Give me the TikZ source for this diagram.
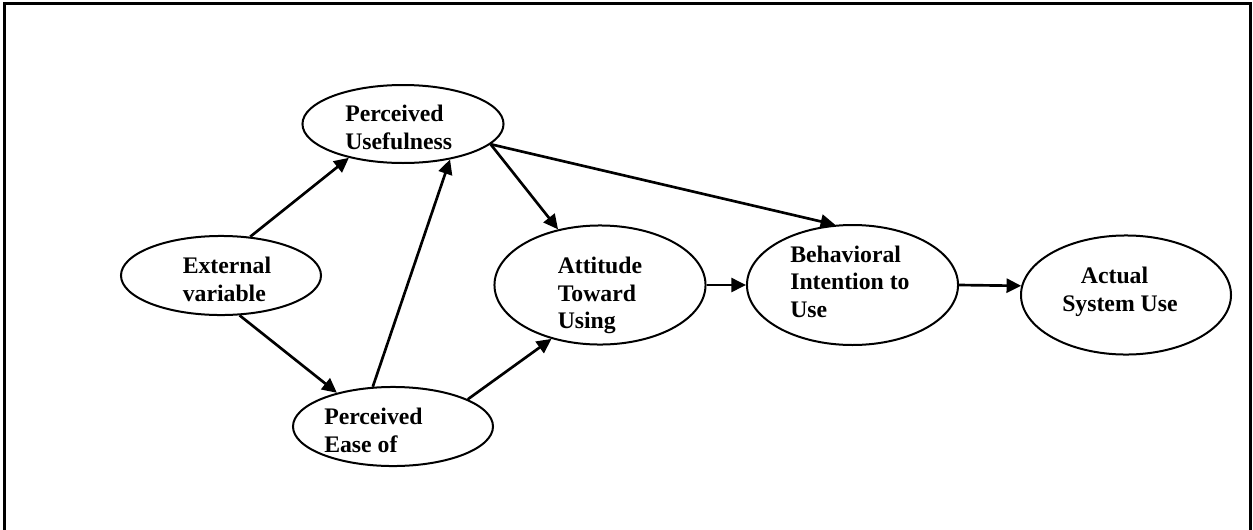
\documentclass[tikz,border=0pt]{standalone}
\usepackage{fontspec}
\setmainfont{Liberation Serif}
\usetikzlibrary{shapes.geometric,arrows.meta}
\tikzset{
  bubble/.style={draw, ellipse, line width=1.5pt, inner sep=0pt},
  lbl/.style={font=\fontsize{17.8}{20.6}\selectfont\bfseries, inner sep=0pt, align=left, anchor=north west},
  link/.style={line width=2pt, -{Triangle[length=11pt,width=10.5pt]}}
}
\begin{document}
\begin{tikzpicture}[x=0.75pt,y=0.75pt,yscale=-1,xscale=1]
\useasboundingbox (0,0) rectangle (1253,529);
\clip (0,0) rectangle (1253,529);

%Shape: Frame (open at the bottom)
\draw[line width=2pt] (4.5,560) -- (4.5,3.2) -- (1250.8,3.2) -- (1250.8,560);

%Shape: Ellipse
\node[bubble, minimum width=150.8pt, minimum height=58.5pt] (pu) at (403,124) {};
%Shape: Ellipse
\node[bubble, minimum width=150pt, minimum height=59.3pt] (ev) at (221,275.5) {};
%Shape: Ellipse
\node[bubble, minimum width=150pt, minimum height=59.3pt] (peou) at (393,426.5) {};
%Shape: Ellipse
\node[bubble, minimum width=158.3pt, minimum height=89.3pt] (atu) at (600,285) {};
%Shape: Ellipse
\node[bubble, minimum width=158.3pt, minimum height=90pt] (bi) at (852.5,285) {};
%Shape: Ellipse
\node[bubble, minimum width=157.5pt, minimum height=89.3pt] (asu) at (1126,295) {};

%Straight Lines
\draw[link] (ev.53) -- (pu.212);
%Straight Lines
\draw[link] (ev.295) -- (peou.149);
%Straight Lines
\draw[link] (peou.117) -- (pu.323);
%Straight Lines
\draw[link] (pu.347) -- (atu.127);
%Straight Lines
\draw[link] (pu.347) -- (bi.106);
%Straight Lines
\draw[link] (peou.20) -- (atu.228);
%Straight Lines
\draw[link] (atu.east) -- (bi.west);
%Straight Lines
\draw[link] (bi.east) -- (asu.175);

% Text Node
\node[lbl] (pu-txt) at (345,105) {Perceived\\Usefulness};
% Text Node
\node[lbl] (ev-txt) at (182.5,257) {External\\variable};
% Text Node
\node[lbl] (peou-txt) at (324,408) {Perceived\\Ease of};
% Text Node
\node[lbl] (atu-txt) at (557.5,257) {Attitude\\Toward\\Using};
% Text Node
\node[lbl] (bi-txt) at (790,245.5) {Behavioral\\Intention to\\Use};
% Text Node
\node[lbl] (asu-txt) at (1062,267) {\hspace*{14pt}Actual\\System Use};

\end{tikzpicture}
\end{document}
